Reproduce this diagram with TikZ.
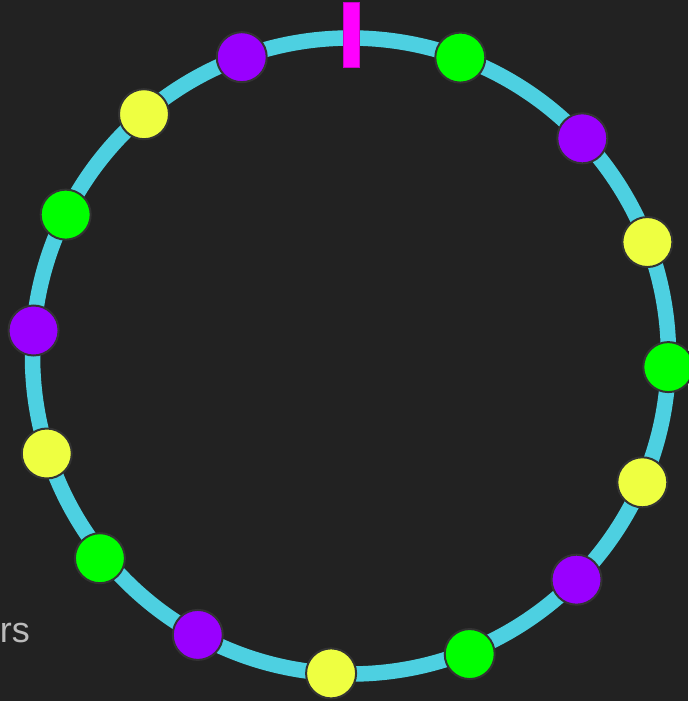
\documentclass[tikz,border=0pt]{standalone}
\usepackage{fontspec}
\setmainfont{Liberation Sans}
\usetikzlibrary{calc}
\definecolor{bg}{HTML}{222222}
\definecolor{ring}{HTML}{4DD0E1}
\definecolor{dotpurple}{HTML}{9900FF}
\definecolor{dotgreen}{HTML}{00FF00}
\definecolor{dotyellow}{HTML}{EEFF41}
\definecolor{dotborder}{HTML}{333333}
\definecolor{marker}{HTML}{FF00FF}
\definecolor{markerborder}{HTML}{C800C8}
\definecolor{labelgray}{HTML}{BBBBBB}
\begin{document}
\begin{tikzpicture}[x=1pt,y=-1pt,
  dot/.style={circle, draw=dotborder, line width=2pt, minimum size=50pt, inner sep=0pt},
  pdot/.style={dot, fill=dotpurple},
  gdot/.style={dot, fill=dotgreen},
  ydot/.style={dot, fill=dotyellow},
  ringline/.style={draw=ring, line width=15.5pt},
  markerbar/.style={fill=marker, draw=markerborder, line width=1pt},
  sidelabel/.style={text=labelgray, font=\fontsize{36}{40}\selectfont, inner sep=0pt, anchor=base east}]
\fill[bg] (0,0) rectangle (688,701);
\useasboundingbox (0,0) rectangle (688,701);
\coordinate (c) at (350.5,356);
\draw[ringline] (c) circle[radius=318];
\node[pdot] (d1) at ($(c)+(-110:318)$) {};
\node[gdot] (d2) at ($(c)+(-69.8:318)$) {};
\node[pdot] (d3) at ($(c)+(-43.2:318)$) {};
\node[ydot] (d4) at ($(c)+(-21:318)$) {};
\node[gdot] (d5) at ($(c)+(2:318)$) {};
\node[ydot] (d6) at ($(c)+(23.4:318)$) {};
\node[pdot] (d7) at ($(c)+(44.7:318)$) {};
\node[gdot] (d8) at ($(c)+(68.2:321)$) {};
\node[ydot] (d9) at ($(c)+(93.5:318)$) {};
\node[pdot] (d10) at ($(c)+(118.7:318)$) {};
\node[gdot] (d11) at ($(c)+(141.1:322)$) {};
\node[ydot] (d12) at ($(c)+(162.2:319)$) {};
\node[pdot] (d13) at ($(c)+(184.6:318)$) {};
\node[gdot] (d14) at ($(c)+(206.4:318)$) {};
\node[ydot] (d15) at ($(c)+(229.5:318)$) {};
\draw[markerbar] (343,2.5) rectangle (359,67.5);
\node[sidelabel] (lbl) at (30,642) {rs};
\end{tikzpicture}
\end{document}
